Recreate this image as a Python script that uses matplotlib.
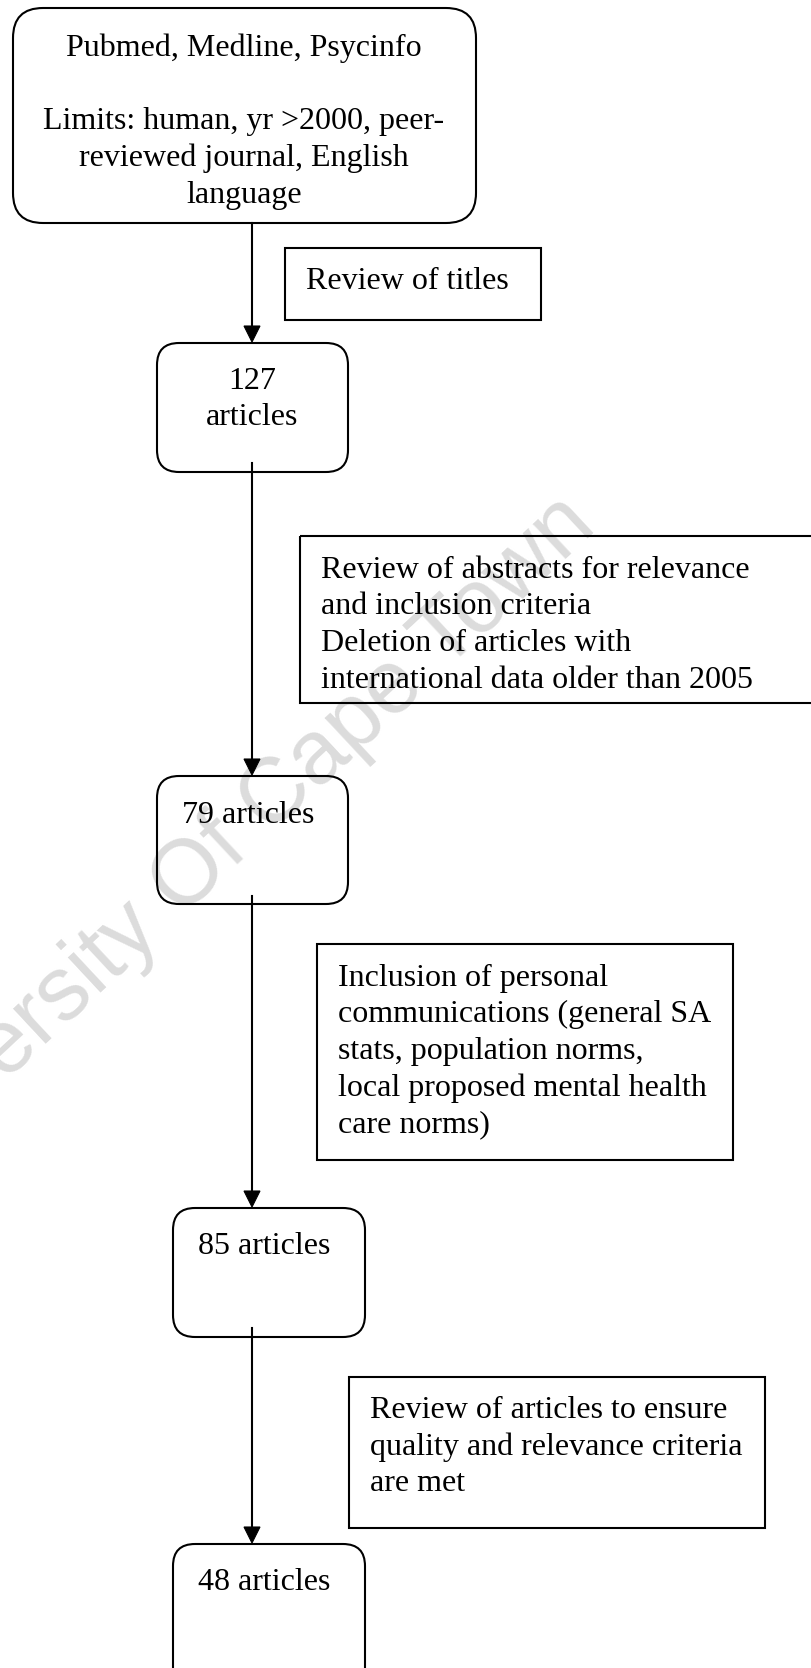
import matplotlib
matplotlib.use("Agg")
import matplotlib.pyplot as plt
from matplotlib.patches import FancyBboxPatch, Rectangle, Polygon

plt.rcParams['font.family'] = ['Liberation Serif', 'DejaVu Serif']

# flowchart texts
source_lines = ["Pubmed, Medline, Psycinfo", "",
                "Limits: human, yr >2000, peer-",
                "reviewed journal, English", "language"]
count_labels = [["127", "articles"], ["79 articles"], ["85 articles"], ["48 articles"]]
step_labels = [
    ["Review of titles"],
    ["Review of abstracts for relevance", "and inclusion criteria",
     "Deletion of articles with", "international data older than 2005"],
    ["Inclusion of personal", "communications (general SA",
     "stats, population norms,", "local proposed mental health",
     "care norms)"],
    ["Review of articles to ensure", "quality and relevance criteria",
     "are met"],
]
watermark = "University Of Cape Town"

W, H = 811, 1668
fig = plt.figure(figsize=(W / 100, H / 100), dpi=100)
ax = fig.add_axes([0, 0, 1, 1])
ax.set_xlim(0, W)
ax.set_ylim(H, 0)
ax.axis('off')

FS = 23
LS = 36.8
DY = 3  # small nudge so glyphs sit like the original

# faint watermark behind everything
ax.text(220, 850, watermark, rotation=43, rotation_mode='anchor',
        ha='center', va='center', fontsize=65, color='#dcdcdc',
        family=['Liberation Sans', 'DejaVu Sans'], zorder=0)


def rbox(x0, y0, x1, y1, r):
    p = FancyBboxPatch((x0, y0), x1 - x0, y1 - y0,
                       boxstyle="round,pad=0,rounding_size=%d" % r,
                       fc='none', ec='black', lw=1.5, zorder=2)
    ax.add_patch(p)


def sbox(x0, y0, x1, y1):
    ax.add_patch(Rectangle((x0, y0), x1 - x0, y1 - y0, fc='none',
                           ec='black', lw=1.5, zorder=2))


def lines(x, y0, txt, ha='left'):
    for i, t in enumerate(txt):
        ax.text(x, y0 + DY + i * LS, t, fontsize=FS, ha=ha, va='center', zorder=3)


def arrow(x, y0, y1):
    ax.plot([x, x], [y0, y1 - 14], color='black', lw=1.5, zorder=2)
    ax.add_patch(Polygon([[x - 8, y1 - 16], [x + 8, y1 - 16], [x, y1]],
                         closed=True, fc='black', ec='black', lw=0.8, zorder=2))


# top box
rbox(13, 8, 476, 223, 30)
lines(244, 45, source_lines, ha='center')

# count boxes
cboxes = [(157, 343, 348, 472), (157, 776, 348, 904),
          (173, 1208, 365, 1337), (173, 1544, 365, 1720)]
for (x0, y0, x1, y1), lab in zip(cboxes, count_labels):
    rbox(x0, y0, x1, y1, 22)
    if len(lab) > 1:
        lines((x0 + x1) / 2, y0 + 35, lab, ha='center')
    else:
        lines(x0 + 25, y0 + 36, lab)

# step boxes
sboxes = [(285, 248, 541, 320), (300, 536, 830, 703),
          (317, 944, 733, 1160), (349, 1377, 765, 1528)]
text_top = [278, 567, 975, 1407]
for (x0, y0, x1, y1), lab, ty in zip(sboxes, step_labels, text_top):
    sbox(x0, y0, x1, y1)
    lines(x0 + 21, ty, lab)

# arrows
arrow(252, 223, 342)
arrow(252, 463, 775)
arrow(252, 896, 1207)
arrow(252, 1328, 1543)

fig.savefig("out.png", dpi=100)
